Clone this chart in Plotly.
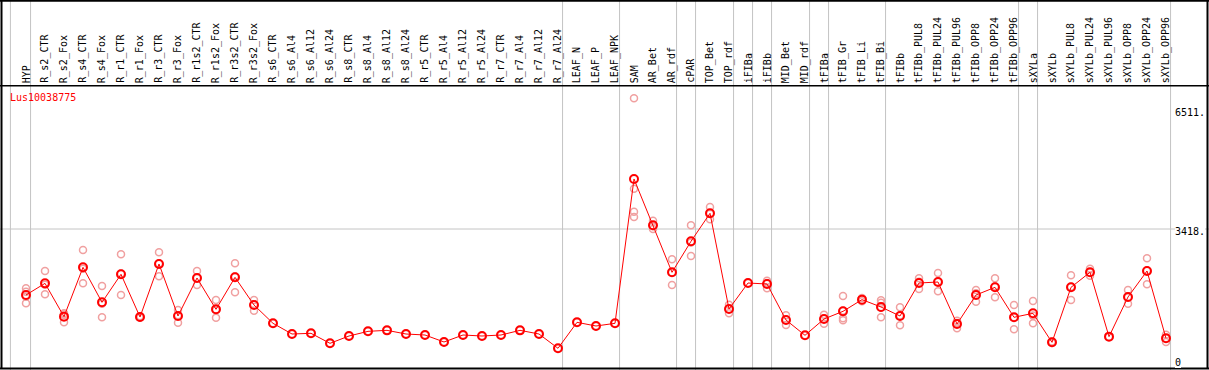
import plotly.graph_objects as go

# ---------------- data ----------------
gene = "Lus10038775"

categories = [
    "HYP", "R_s2_CTR", "R_s2_Fox", "R_s4_CTR", "R_s4_Fox", "R_r1_CTR", "R_r1_Fox",
    "R_r3_CTR", "R_r3_Fox", "R_r1s2_CTR", "R_r1s2_Fox", "R_r3s2_CTR", "R_r3s2_Fox",
    "R_s6_CTR", "R_s6_Al4", "R_s6_Al12", "R_s6_Al24", "R_s8_CTR", "R_s8_Al4",
    "R_s8_Al12", "R_s8_Al24", "R_r5_CTR", "R_r5_Al4", "R_r5_Al12", "R_r5_Al24",
    "R_r7_CTR", "R_r7_Al4", "R_r7_Al12", "R_r7_Al24", "LEAF_N", "LEAF_P", "LEAF_NPK",
    "SAM", "AR_Bet", "AR_rdf", "cPAR", "TOP_Bet", "TOP_rdf", "iFIBa", "iFIBb",
    "MID_Bet", "MID_rdf", "tFIBa", "tFIB_Gr", "tFIB_Li", "tFIB_Bi", "tFIBb",
    "tFIBb_PUL8", "tFIBb_PUL24", "tFIBb_PUL96", "tFIBb_OPP8", "tFIBb_OPP24",
    "tFIBb_OPP96", "sXYLa", "sXYLb", "sXYLb_PUL8", "sXYLb_PUL24", "sXYLb_PUL96",
    "sXYLb_OPP8", "sXYLb_OPP24", "sXYLb_OPP96",
]

means = [
    1696, 2000, 1131, 2418, 1505, 2236, 1122, 2505, 1148, 2140, 1322, 2157, 1435,
    957, 678, 696, 435, 626, 748, 774, 678, 652, 470, 652, 626, 652, 774, 678, 305,
    983, 887, 957,
    4723, 3514, 2288, 3097, 3827, 1331, 2009, 1983, 1044, 644, 1070, 1270, 1575,
    1383, 1148, 2009, 2035, 939, 1696, 1896, 1114, 1218, 461, 1896, 2288, 609,
    1644, 2322, 566,
]

replicates = [
    [1871, 1782, 1479, 1652], [2322, 1713, 1965], [1218, 1190, 983],
    [2870, 2000, 2384], [1931, 1114, 1470], [2757, 1696, 2255], [1140, 1122, 1104],
    [2810, 2184, 2521], [1305, 973, 1166], [2322, 1957, 2140], [1566, 1104, 1296],
    [2522, 1765, 2184], [1566, 1287, 1452],
    [957], [678], [696], [435], [626], [748], [774], [678], [652], [470], [652],
    [626], [652], [774], [678], [305], [983], [887], [957],
    [6828, 4470, 3870, 3731], [3635, 3418, 3490], [2627, 1957, 2280],
    [3514, 2714, 3063], [3992, 3671, 3818], [1444, 1218, 1331], [2009],
    [2070, 1871, 2009], [1166, 913, 1053], [644], [1183, 948, 1079],
    [1670, 1088, 1035, 1287], [1531, 1619], [1557, 1495, 1114, 1366],
    [1375, 905, 1164], [2131, 1853, 2043], [2270, 1792, 2043], [1026, 827, 964],
    [1826, 1522, 1740], [2131, 1636, 1921], [1435, 801, 1106], [1539, 957, 1158],
    [480, 445], [2209, 1566, 1913], [2383, 2200, 2281], [609], [1826, 1470, 1636],
    [2653, 1975, 2338], [661, 470, 566],
]

# category indices after which a group separator is drawn
group_breaks = [0, 28, 31, 34, 35, 37, 38, 39, 41, 42, 45, 52, 53, 60]

y_tick_values = [0, 3418, 6511]
y_tick_labels = ["0", "3418.", "6511."]

# ---------------- layout geometry ----------------
W, H = 1209, 370
X_FIRST_PX, X_STEP_PX = 26.0, 19.0       # pixel x of first category, spacing
Y_ZERO_PX, Y_REF_PX = 360.0, 229.0        # pixel y of value 0 and of value 3418
UNITS_PER_PX = 3418.0 / (Y_ZERO_PX - Y_REF_PX)
HEADER_PX = 85.7

x_range = [-X_FIRST_PX / X_STEP_PX, (W - X_FIRST_PX) / X_STEP_PX]
y_range = [-(H - Y_ZERO_PX) * UNITS_PER_PX, Y_ZERO_PX * UNITS_PER_PX]


def px_x(p):
    return p / W


def px_y(p):
    return 1 - p / H


FONT = "DejaVu Sans Mono, Liberation Mono, monospace"
GRID = "#c4c4c4"
REP_COLOR = "#f0a0a0"

fig = go.Figure()

rep_x = [i for i, reps in enumerate(replicates) for _ in reps]
rep_y = [v for reps in replicates for v in reps]

fig.add_trace(go.Scatter(
    x=rep_x, y=rep_y, mode="markers", hoverinfo="y",
    marker=dict(symbol="circle-open", size=7, color=REP_COLOR,
                line=dict(width=1.5, color=REP_COLOR)),
    showlegend=False,
))

fig.add_trace(go.Scatter(
    x=list(range(len(categories))), y=means, mode="lines+markers",
    line=dict(color="#ff0000", width=1),
    marker=dict(symbol="circle-open", size=8, color="#ff0000",
                line=dict(width=2, color="#ff0000")),
    showlegend=False, name=gene,
))

shapes = []
# vertical group separators (full height, incl. header)
sep_positions = [-0.82] + [b + 0.24 for b in group_breaks]
for xs in sep_positions:
    shapes.append(dict(type="line", xref="x", yref="paper", x0=xs, x1=xs,
                       y0=0, y1=1, line=dict(color=GRID, width=1), layer="below"))
# horizontal grid at middle tick
shapes.append(dict(type="line", xref="paper", yref="y", x0=0, x1=1,
                   y0=y_tick_values[1], y1=y_tick_values[1],
                   line=dict(color=GRID, width=1), layer="below"))
# header separator
shapes.append(dict(type="line", xref="paper", yref="paper", x0=0, x1=1,
                   y0=px_y(HEADER_PX), y1=px_y(HEADER_PX),
                   line=dict(color="black", width=1.5)))
# frame
for (x0, y0, x1, y1) in [(1.5, 0, 1.5, 369), (1207.5, 0, 1207.5, 369),
                         (0, 0.8, W, 0.8), (0, 368.5, W, 368.5)]:
    shapes.append(dict(type="line", xref="paper", yref="paper",
                       x0=px_x(x0), x1=px_x(x1), y0=px_y(y0), y1=px_y(y1),
                       line=dict(color="black", width=2)))

annotations = []
for i, name in enumerate(categories):
    annotations.append(dict(
        x=i, xref="x", y=px_y(HEADER_PX - 0.5), yref="paper",
        text=name, textangle=-90, showarrow=False,
        xanchor="center", yanchor="bottom",
        font=dict(family=FONT, size=10, color="black"),
    ))

for v, lab in zip(y_tick_values, y_tick_labels):
    annotations.append(dict(
        x=px_x(1175), xref="paper", y=v, yref="y", yshift=-2,
        text=lab, showarrow=False, xanchor="left", yanchor="middle",
        bgcolor="white", borderpad=0, borderwidth=0,
        font=dict(family=FONT, size=10, color="black"),
    ))

annotations.append(dict(
    x=px_x(8), xref="paper", y=px_y(97), yref="paper",
    text=gene, showarrow=False, xanchor="left", yanchor="middle",
    font=dict(family=FONT, size=10, color="#ff0000"),
))

fig.update_layout(
    width=W, height=H,
    margin=dict(l=0, r=0, t=0, b=0, pad=0, autoexpand=False),
    paper_bgcolor="white", plot_bgcolor="white",
    xaxis=dict(range=x_range, visible=False, showgrid=False, zeroline=False),
    yaxis=dict(range=y_range, visible=False, showgrid=False, zeroline=False),
    shapes=shapes, annotations=annotations,
)

fig.write_html(
    "out.html",
    config={"displayModeBar": False},
    post_script="document.body.style.margin='0';document.body.style.overflow='hidden';",
)
